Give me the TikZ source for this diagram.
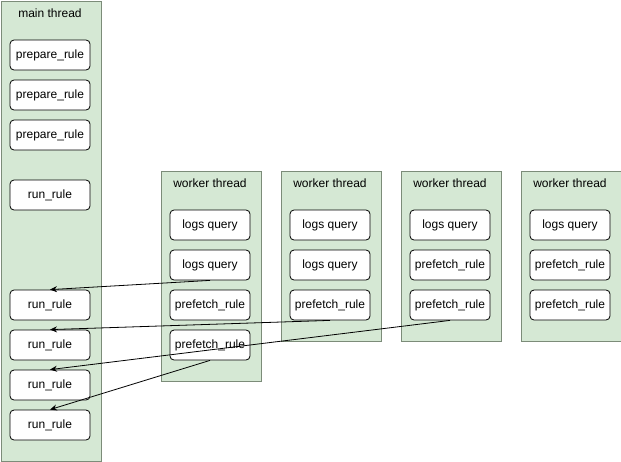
\documentclass[tikz,border=0pt]{standalone}
\usepackage{fontspec}
\setmainfont{Liberation Sans}
\usetikzlibrary{arrows.meta,positioning}
\definecolor{threadfill}{HTML}{D5E8D4}
\definecolor{threaddraw}{HTML}{7C8C79}
\tikzstyle{thread} = [draw=threaddraw, fill=threadfill, line width=0.8pt, inner sep=0pt, anchor=north west, minimum width=100pt]
\tikzstyle{title} = [inner sep=0pt, font=\fontsize{12}{14}\selectfont]
\tikzstyle{task} = [draw, line width=0.8pt, rounded corners=4pt, fill=white, minimum width=80pt, minimum height=30pt, inner sep=0pt, font=\fontsize{12}{14}\selectfont]
\tikzstyle{line} = [draw, line width=0.8pt, -{Stealth[length=7pt,width=6pt]}]
\tikzset{>=latex}

\begin{document}
\begin{tikzpicture}[x=1pt,y=-1pt]
    \useasboundingbox (0,0) rectangle (621,461);
    % main thread
    \node [thread, minimum height=460pt] (main) at (0.5,0.5) {};
    \node [title] (maint) at (50,13) {main thread};
    \node [task] (prep1) at (50,55) {prepare\_rule};
    \node [task] (prep2) at (50,95) {prepare\_rule};
    \node [task] (prep3) at (50,135) {prepare\_rule};
    \node [task] (run0) at (50,195) {run\_rule};
    \node [task] (run1) at (50,305) {run\_rule};
    \node [task] (run2) at (50,345) {run\_rule};
    \node [task] (run3) at (50,385) {run\_rule};
    \node [task] (run4) at (50,425) {run\_rule};

    % worker threads
    \foreach \i/\x/\h in {1/160/210, 2/280/170, 3/400/170, 4/520/170} {
      \node [thread, minimum height=\h pt] (w\i) at (\x+0.5,170.5) {};
      \node [title] (w\i t) at (\x+50,183) {worker thread};
    }
    \node [task] (w1a) at (210,225) {logs query};
    \node [task] (w1b) at (210,265) {logs query};
    \node [task] (w1c) at (210,305) {prefetch\_rule};
    \node [task] (w1d) at (210,345) {prefetch\_rule};
    \node [task] (w2a) at (330,225) {logs query};
    \node [task] (w2b) at (330,265) {logs query};
    \node [task] (w2c) at (330,305) {prefetch\_rule};
    \node [task] (w3a) at (450,225) {logs query};
    \node [task] (w3b) at (450,265) {prefetch\_rule};
    \node [task] (w3c) at (450,305) {prefetch\_rule};
    \node [task] (w4a) at (570,225) {logs query};
    \node [task] (w4b) at (570,265) {prefetch\_rule};
    \node [task] (w4c) at (570,305) {prefetch\_rule};

    % results back to main thread
    \draw [line] (w1b.south) -- (run1.north);
    \draw [line] (w2c.south) -- (run2.north);
    \draw [line] (w3c.south) -- (run3.north);
    \draw [line] (w1d.south) -- (run4.north);
\end{tikzpicture}
\end{document}
